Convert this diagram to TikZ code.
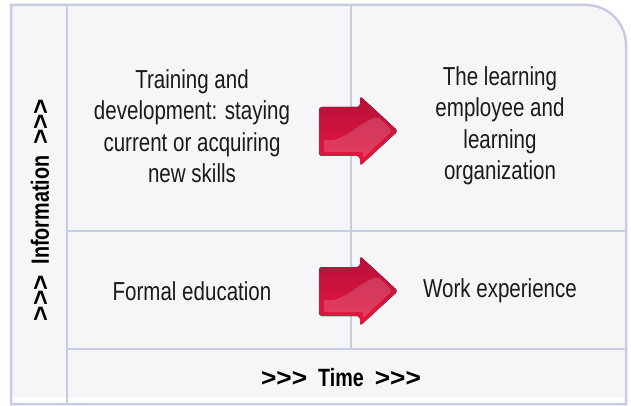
\documentclass[tikz,border=0pt]{standalone}
\usepackage{fontspec}
\setmainfont{Liberation Sans}[FakeStretch=0.79]
\newfontfamily\arrowfont{Liberation Sans}[FakeStretch=1.05]
\definecolor{framecol}{HTML}{C7CDE0}
\definecolor{cellfill}{HTML}{F6F6F9}
\definecolor{inkcol}{HTML}{1A1A1A}
\definecolor{redtop}{HTML}{B50F3A}
\definecolor{redbot}{HTML}{E8183F}
\begin{document}
\begin{tikzpicture}[x=1pt,y=-1pt]
\tikzset{ >=latex, inner sep=0pt, outer sep=0pt,
  frameline/.style={framecol, line width=2.5pt},
  celltext/.style={inkcol, align=center, font=\fontsize{26}{31.5}\selectfont},
  axistext/.style={black, font=\bfseries\fontsize{25}{30}\selectfont},
  bigarrow/.style={top color=redtop, bottom color=redbot, rounded corners=3pt},
  gloss/.style={fill=white, fill opacity=0.16, rounded corners=2pt},
}
\useasboundingbox (0,0) rectangle (631,406);
%\draw [lightgray, dashed](0,0) grid[step=50] (631,406);

% background and frame
\fill [cellfill] (11,404) -- (11,5) -- (586,5) arc (-90:0:40) -- (626,404) -- cycle;
\fill [white] (11,398) rectangle (626,403);
\draw [frameline] (11,404) -- (11,5) -- (586,5) arc (-90:0:40) -- (626,404) -- cycle;

\coordinate (TL) at (67,5);
\coordinate (BL) at (67,404);
\coordinate (TM) at (351,5);
\coordinate (BM) at (351,349);
\coordinate (ML) at (67,231);
\coordinate (MR) at (626,231);
\coordinate (LL) at (67,349);
\coordinate (LR) at (626,349);

\draw [frameline] (TL) -- (BL);
\draw [frameline] (TM) -- (BM);
\draw [frameline] (ML) -- (MR);
\draw [frameline] (LL) -- (LR);

% arrows
\foreach \dy in {0,160}{
  \begin{scope}[shift={(0,\dy)}]
    \fill [bigarrow] (319,107) -- (360,107) -- (360,96) -- (398,131)
      -- (360,166) -- (360,156) -- (319,156) -- cycle;
    \fill [gloss] (324,140) .. controls (346,142) and (360,121) .. (378,117)
      -- (392,131) -- (363,158) -- (363,152) -- (324,152) -- cycle;
  \end{scope}
}

% texts
\node [celltext] (train) at (192,126) {Training and\\development: staying\\current or acquiring\\new skills};
\node [celltext] (learn) at (500,126) {The learning\\employee and\\learning\\organization};
\node [celltext] (formal) at (192,291) {Formal education};
\node [celltext] (work) at (500,291) {Work experience};

\node [axistext, rotate=90] (info) at (40,210) {{\arrowfont >{}>{}>}\hspace{11pt}Information\hspace{11pt}{\arrowfont >{}>{}>}};
\node [axistext] (time) at (341,378) {{\arrowfont >{}>{}>}\hspace{11pt}Time\hspace{11pt}{\arrowfont >{}>{}>}};

\end{tikzpicture}
\end{document}
